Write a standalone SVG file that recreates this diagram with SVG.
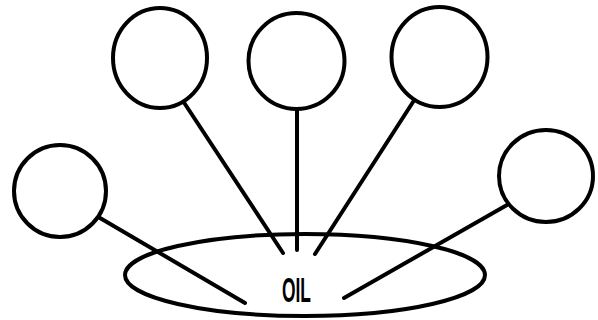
<svg xmlns="http://www.w3.org/2000/svg" width="598" height="320" viewBox="0 0 598 320">
<style>
.n{fill:#fff;stroke:#000;stroke-width:4}
.c line{stroke:#000;stroke-width:4;stroke-linecap:round}
.t{font-family:"Liberation Sans",Arial,sans-serif;font-weight:bold;font-size:35px;fill:#000}
</style>
<rect width="598" height="320" fill="#fff"/>
<g id="oil"><ellipse class="n" cx="305" cy="275" rx="180" ry="41"/></g>
<g class="c" id="connectors">
<line x1="100" y1="218" x2="245" y2="303"/>
<line x1="183" y1="101" x2="283" y2="253"/>
<line x1="297" y1="109" x2="297" y2="250"/>
<line x1="413" y1="102" x2="315" y2="254"/>
<line x1="507" y1="205" x2="344" y2="298"/>
</g>
<g id="node1"><ellipse class="n" cx="160" cy="58" rx="47" ry="50"/></g>
<g id="node2"><ellipse class="n" cx="296.5" cy="61" rx="48" ry="48"/></g>
<g id="node3"><ellipse class="n" cx="439.5" cy="57" rx="48" ry="50"/></g>
<g id="node4"><ellipse class="n" cx="60" cy="191" rx="46" ry="46"/></g>
<g id="node5"><ellipse class="n" cx="546" cy="176" rx="47" ry="46"/></g>
<text class="t" x="282" y="302" textLength="29" lengthAdjust="spacingAndGlyphs">OIL</text>
</svg>
